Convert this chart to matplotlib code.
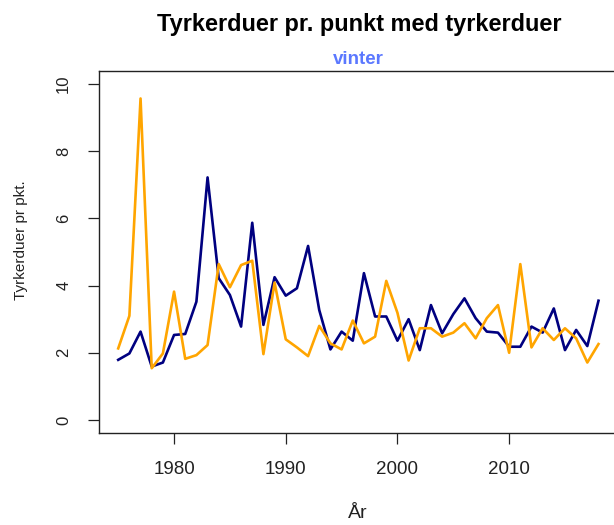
import matplotlib
matplotlib.use("Agg")
import matplotlib.pyplot as plt

years = list(range(1975, 2019))

# blå serie
blue_vals = [1.79, 1.98, 2.63, 1.59, 1.71, 2.53, 2.56, 3.52, 7.22, 4.22,
             3.72, 2.78, 5.87, 2.83, 4.25, 3.70, 3.92, 5.18, 3.27, 2.10,
             2.63, 2.36, 4.37, 3.08, 3.08, 2.36, 3.00, 2.08, 3.42, 2.58,
             3.15, 3.62, 3.03, 2.63, 2.60, 2.18, 2.18, 2.78, 2.60, 3.32,
             2.08, 2.68, 2.20, 3.55]

# orange serie
orange_vals = [2.13, 3.10, 9.57, 1.54, 1.98, 3.82, 1.82, 1.93, 2.23, 4.64,
               3.95, 4.61, 4.74, 1.96, 4.09, 2.40, 2.16, 1.90, 2.80, 2.28,
               2.10, 2.96, 2.28, 2.48, 4.14, 3.19, 1.77, 2.73, 2.73, 2.48,
               2.60, 2.88, 2.43, 3.03, 3.42, 2.00, 4.64, 2.16, 2.73, 2.38,
               2.73, 2.43, 1.71, 2.26]

x_ticks = [1980, 1990, 2000, 2010]
y_ticks = [0, 2, 4, 6, 8, 10]

plt.rcParams['font.family'] = 'Liberation Sans'
plt.rcParams['font.size'] = 13.5

W, H = 614, 525
fig = plt.figure(figsize=(W / 100, H / 100), dpi=100)
ax = fig.add_axes([99 / W, (H - 433.4) / H, (617.7 - 99) / W, (433.4 - 70.6) / H])

ax.plot(years, blue_vals, color='#000080', lw=1.9)
ax.plot(years, orange_vals, color='#FFA500', lw=1.9)

span = years[-1] - years[0]
ax.set_xlim(years[0] - 0.04 * span, years[-1] + 0.04 * span)
ax.set_ylim(-0.4, 10.4)
ax.set_xticks(x_ticks)
ax.set_yticks(y_ticks)
ax.set_yticklabels([str(v) for v in y_ticks], rotation=90, va='center')
ax.tick_params(direction='out', length=8, width=0.9, colors='#222222')
ax.tick_params(axis='x', labelsize=13.5, pad=12)
ax.tick_params(axis='y', labelsize=12, pad=12)
for s in ax.spines.values():
    s.set_linewidth(1.0)
    s.set_color('#222222')

fig.text(359 / W, 1 - 24 / H, 'Tyrkerduer pr. punkt med tyrkerduer',
         ha='center', va='center', fontsize=16.9, fontweight='bold')
fig.text(358 / W, 1 - 59 / H, 'vinter', ha='center', va='center',
         fontsize=13.5, fontweight='bold', color='#5b78ff')
fig.text(358 / W, 1 - 514 / H, 'År', ha='center', va='center', fontsize=14,
         color='#222222')
fig.text(21 / W, 1 - 240 / H, 'Tyrkerduer pr pkt.', ha='center', va='center',
         rotation=90, fontsize=11, color='#222222')

fig.savefig('out.png', dpi=100)
